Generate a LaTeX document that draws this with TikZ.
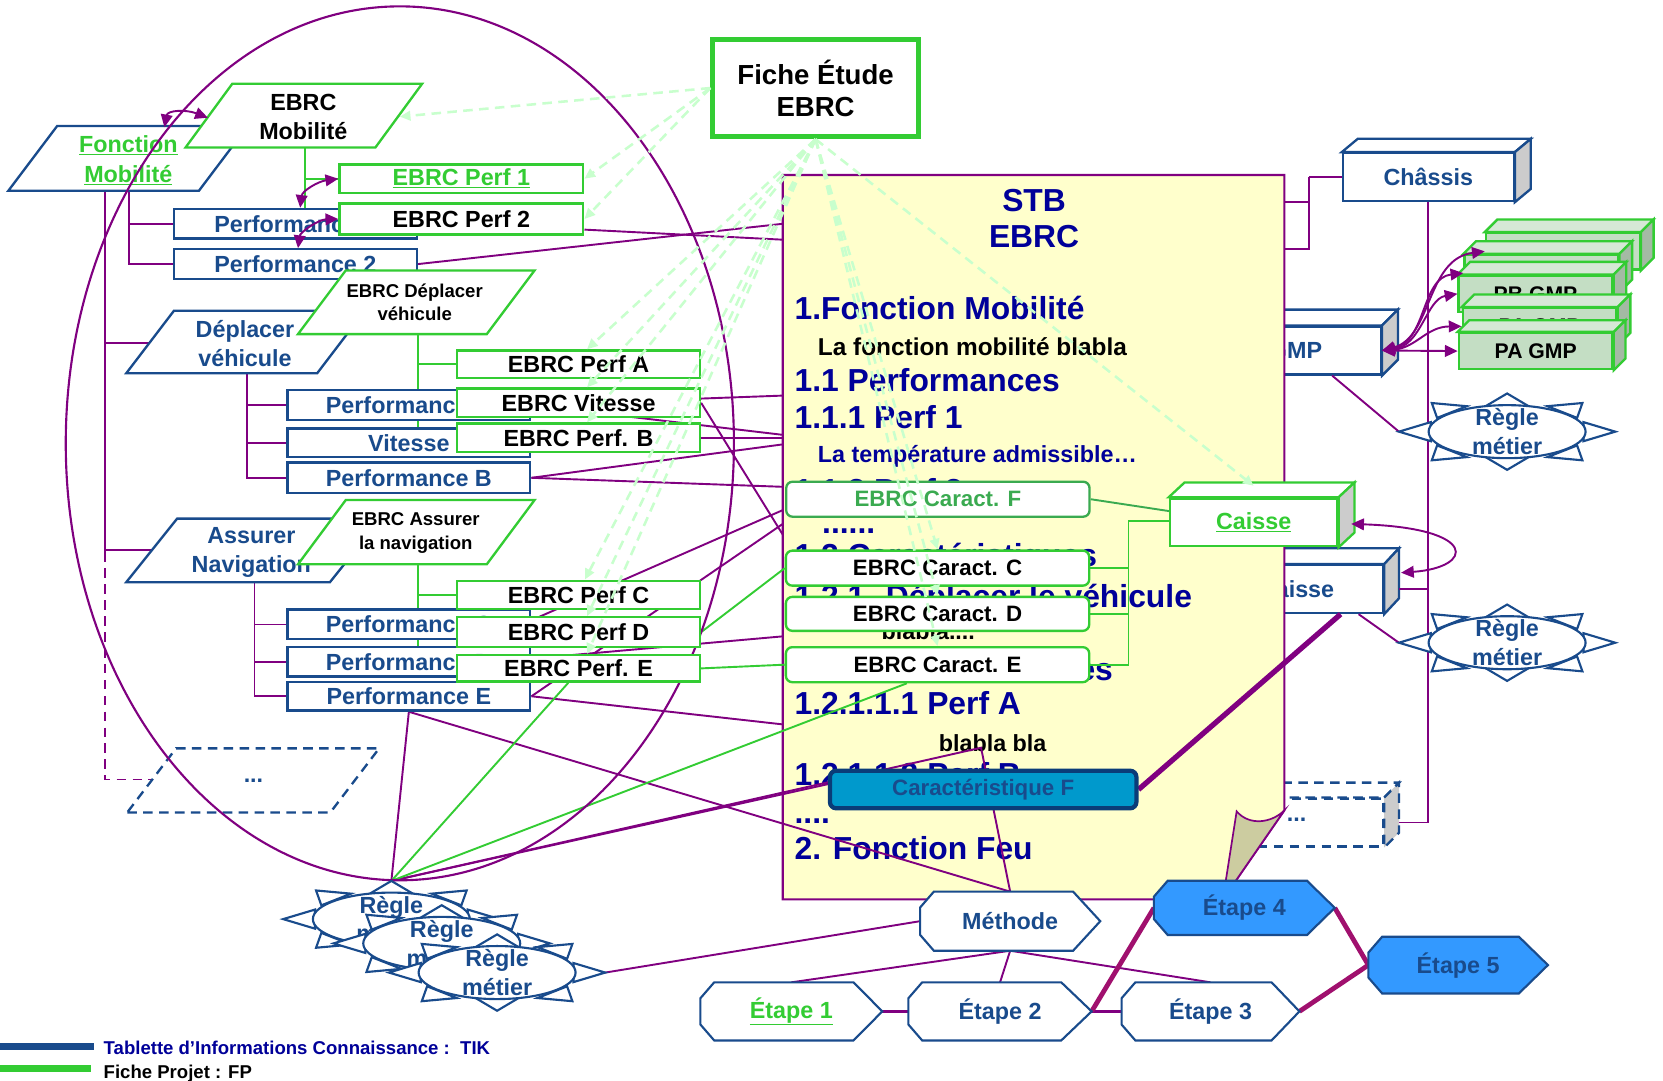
\documentclass[tikz,border=0pt]{standalone}
\usepackage{fontspec}
\setmainfont{Liberation Sans}
\usetikzlibrary{arrows.meta,calc}

\definecolor{tik}{RGB}{25,75,140}
\definecolor{tikdark}{RGB}{10,60,120}
\definecolor{fp}{RGB}{51,204,51}
\definecolor{fpdark}{RGB}{58,170,80}
\definecolor{lien}{RGB}{128,0,128}
\definecolor{etapelien}{RGB}{160,16,110}
\definecolor{navy}{RGB}{0,0,153}
\definecolor{page}{RGB}{255,255,204}
\definecolor{curl}{RGB}{204,204,160}
\definecolor{dash}{RGB}{200,255,205}
\definecolor{caract}{RGB}{0,153,204}
\definecolor{etape}{RGB}{51,153,255}
\definecolor{gmpfront}{RGB}{196,222,196}
\definecolor{gmptop}{RGB}{214,232,214}
\definecolor{gmpside}{RGB}{164,186,164}
\definecolor{sidegrey}{RGB}{204,204,204}

\pgfdeclarelayer{back}
\pgfdeclarelayer{pagel}
\pgfdeclarelayer{links}
\pgfsetlayers{back,pagel,links,main}

\newcommand{\fsz}[2]{\fontsize{#1}{#2}\selectfont\bfseries}

% parallelogram: style, name, x bottom-left, x bottom-right, y bottom, y top, slant
\newcommand{\pgram}[7]{%
  \draw[#1] (#3,#5) coordinate (#2-bl) -- (#4,#5) coordinate (#2-br)
    -- ({#4+#7},#6) coordinate (#2-tr) -- ({#3+#7},#6) coordinate (#2-tl) -- cycle;}

% top and right faces of a box node: node, dx, dy (upwards), style, side colour
\newcommand{\cubefaces}[5]{%
  \draw[#4] (#1.north west) -- ++(#2,-#3) -- ($(#1.north east)+(#2,-#3)$) -- (#1.north east) -- cycle;
  \draw[#4,fill=#5] (#1.north east) -- ++(#2,-#3) -- ($(#1.south east)+(#2,-#3)$) -- (#1.south east) -- cycle;}

% business rule seal: name, x, y
\newcommand{\regle}[3]{%
  \begin{scope}[shift={(#2,#3)}]
    \filldraw[reglet] (-102,0) -- (-72,-9) -- (-72,9) -- cycle;
    \filldraw[reglet] (102,0) -- (72,-9) -- (72,9) -- cycle;
    \filldraw[reglet] (0,-36) -- (-22,-23) -- (22,-23) -- cycle;
    \filldraw[reglet] (0,36) -- (-22,23) -- (22,23) -- cycle;
    \filldraw[reglet] (-71,-27) -- (-38,-24) -- (-66,-13) -- cycle;
    \filldraw[reglet] (71,-27) -- (38,-24) -- (66,-13) -- cycle;
    \filldraw[reglet] (-71,27) -- (-38,24) -- (-66,13) -- cycle;
    \filldraw[reglet] (71,27) -- (38,24) -- (66,13) -- cycle;
    \filldraw[reglet] (0,0) ellipse [x radius=74pt, y radius=25pt];
    \coordinate (#1-top) at (0,-36);
    \coordinate (#1-left) at (-102,0);
    \coordinate (#1-right) at (102,0);
    \node[lbl, text=tik, align=center, font={\fsz{22}{27}}] (#1) at (0,0) {Règle\\métier};
  \end{scope}}

% process step: name, x left, x right, x tip, y top, y bottom, fill, text
\newcommand{\etape}[8]{%
  \filldraw[stepl, fill=#7] ({#2+13},#5) -- (#3,#5) -- (#4,{(#5+#6)/2}) -- (#3,#6)
    -- ({#2+13},#6) -- (#2,{#6-15}) -- (#2,{#5+15}) -- cycle;
  \node[lbl, text=tik] (#1) at ({(#2+#4)/2},{(#5+#6)/2}) {#8};
  \coordinate (#1-n) at ({(#2+#4)/2},#5);
  \coordinate (#1-s) at ({(#2+#4)/2},#6);
  \coordinate (#1-w) at (#2,{(#5+#6)/2});
  \coordinate (#1-e) at (#4,{(#5+#6)/2});}

\begin{document}
\begin{tikzpicture}[x=1pt, y=-1pt,
  tikl/.style={draw=tik, line width=2.2pt},
  fpl/.style={draw=fp, line width=2.2pt},
  lbl/.style={inner sep=0pt, font={\fsz{22}{26}}},
  tikbox/.style={tikl, fill=white, inner sep=0pt, text=tik, font={\fsz{22}{26}}},
  fpbox/.style={fpl, fill=white, inner sep=0pt, text=black, font={\fsz{22}{26}}},
  carbox/.style={fpl, fill=white, rounded corners=6pt, minimum width=286pt, inner sep=0pt, font={\fsz{21}{25}}},
  gmpbox/.style={fpl, fill=gmpfront, minimum width=145pt, minimum height=34pt, inner sep=0pt, font={\fsz{20}{24}}},
  lk/.style={draw=lien, line width=1.8pt},
  gk/.style={draw=fp, line width=1.8pt},
  twohead/.style={lk, {Triangle[length=12pt,width=11pt]}-{Triangle[length=12pt,width=11pt]}},
  feuil/.style={draw=dash, line width=2.4pt, dash pattern=on 9pt off 6pt, -{Triangle[length=10pt,width=9pt]}},
  stbh/.style={anchor=base west, inner sep=0pt, text=navy, font={\fsz{30}{34}}},
  stbt/.style={anchor=base west, inner sep=0pt, font={\fsz{22}{26}}},
  reglet/.style={draw=tik, line width=2pt, fill=white},
  stepl/.style={draw=tik, line width=2pt},
  steplink/.style={draw=etapelien, line width=4.5pt},
  dashedtik/.style={dash pattern=on 9pt off 6pt},
]
\useasboundingbox (0,0) rectangle (1568,1019);

% ---------- boxes lying behind the STB page ----------
\begin{pgfonlayer}{back}
  \fill[white] (0,0) rectangle (1568,1019);
  \node[tikbox, minimum width=161pt, minimum height=45pt] (tgmp) at (1221.5,330.5) {GMP};
  \cubefaces{tgmp}{15}{15}{tikl, fill=white}{sidegrey}
  \node[tikbox, minimum width=163pt, minimum height=45pt] (tcaisse) at (1222.5,555.5) {Caisse};
  \cubefaces{tcaisse}{14}{15}{tikl, fill=white}{sidegrey}
  \node[tikbox, dashedtik, minimum width=163pt, minimum height=45pt] (tetc) at (1222.5,775.5) {\raisebox{5pt}{...}};
  \cubefaces{tetc}{14}{14}{tikl, dashedtik, fill=white}{sidegrey}
\end{pgfonlayer}

% ---------- STB document page ----------
\begin{pgfonlayer}{pagel}
  \filldraw[draw=lien, line width=2pt, fill=page] (738,165) -- (1211,165) -- (1211,764) -- (1153,848) -- (738,848) -- cycle;
  \filldraw[draw=lien, line width=1.6pt, fill=curl] (1166,765) .. controls (1178,779) and (1199,776) .. (1211,764) -- (1153,848) -- cycle;
  \node[anchor=base, inner sep=0pt, text=navy, font={\fsz{30}{34}}] (stb1) at (975,199.7) {STB};
  \node[anchor=base, inner sep=0pt, text=navy, font={\fsz{30}{34}}] (stb2) at (975,233.7) {EBRC};
  \node[stbh] (h1) at (749,301.7) {1.Fonction Mobilité};
  \node[stbt, font={\fsz{23}{27}}] (t1) at (771,335.3) {La fonction mobilité blabla};
  \node[stbh] (h2) at (749,368.7) {1.1 Performances};
  \node[stbh] (h3) at (749,403.7) {1.1.1 Perf 1};
  \node[stbt, text=navy] (t2) at (771,436) {La température admissible…};
  \node[stbh] (h4) at (749,472.7) {1.1.2 Perf 2};
  \node[stbh] (h5) at (775,503) {......};
  \node[stbh] (h6) at (749,534.5) {1.2 Caractéristiques};
  \node[stbh] (h7) at (749,573) {1.2.1. Déplacer le véhicule};
  \node[stbt] (t3) at (831,603.4) {blabla....};
  \node[stbh] (h8) at (749,642) {1.2.1.1 Performances};
  \node[stbh] (h9) at (749,673.7) {1.2.1.1.1 Perf A};
  \node[stbt] (t4) at (885,708.8) {blabla bla};
  \node[stbh] (h10) at (749,741) {1.2.1.1.2 Perf B};
  \node[stbh] (h11) at (749,776) {....};
  \node[stbh] (h12) at (749,810.7) {2. Fonction Feu};
\end{pgfonlayer}

% ---------- top: study sheet and chassis ----------
\node[draw=fp, line width=4.5pt, fill=white, minimum width=194pt, minimum height=92pt, inner sep=0pt,
      align=center, font={\fsz{26}{30}}] (fiche) at (769,83) {Fiche Étude\\EBRC};
\node[tikbox, minimum width=161pt, minimum height=45pt] (chassis) at (1346.75,167) {Châssis};
\cubefaces{chassis}{15}{12.5}{tikl, fill=white}{sidegrey}

% ---------- knowledge tablets (left tree) ----------
\pgram{tikl, fill=white}{fm}{7.9}{187.6}{179.8}{118.8}{46}
\node[lbl, text=fp, align=center, font={\fsz{22}{28}}] (fmt) at (121,151) {\underline{Fonction}\\\underline{Mobilité}};
\node[tikbox, minimum width=229pt, minimum height=28pt] (tperf1) at (278.5,211) {Performance 1};
\node[tikbox, minimum width=229pt, minimum height=28pt] (tperf2) at (278.5,249) {Performance 2};
\pgram{tikl, fill=white}{dep}{119}{299}{352}{293}{45}
\node[lbl, text=tik, align=center, font={\fsz{22}{28}}] (dept) at (231,324) {Déplacer\\véhicule};
\node[tikbox, minimum width=229pt, minimum height=28pt] (tperfa) at (385.5,382) {Performance A};
\node[tikbox, minimum width=229pt, minimum height=27pt] (tvit) at (385.5,417.5) {Vitesse};
\node[tikbox, minimum width=229pt, minimum height=29pt] (tperfb) at (385.5,450.5) {Performance B};
\pgram{tikl, fill=white}{ass}{119}{311}{549}{489}{48}
\node[lbl, text=tik, align=center, font={\fsz{22}{27}}] (asst) at (237,521) {Assurer\\Navigation};
\node[tikbox, minimum width=229pt, minimum height=28pt] (tperfc) at (385.5,588.8) {Performance C};
\node[tikbox, minimum width=229pt, minimum height=28pt] (tperfd) at (385.5,624) {Performance D};
\node[tikbox, minimum width=229pt, minimum height=27pt] (tperfe) at (385.5,656.5) {Performance E};
\pgram{tikl, dashedtik, fill=white}{etc}{120}{311.5}{766}{705.6}{46}
\node[lbl, text=tik] (etct) at (239,736) {...};

\coordinate (fm-a) at (99,179.8);
\coordinate (fm-b) at (122,179.8);
\coordinate (fm-d) at (99,521);
\coordinate (dep-w) at (141,323);
\coordinate (ass-w) at (143,519);
\coordinate (etc-w) at (143,735);
\coordinate (dep-s) at (233,352);
\coordinate (ass-s) at (240,549);

% the study perimeter
\draw[lk, line width=2pt] (377,418) ellipse [x radius=315pt, y radius=412pt];

% ---------- project sheets (left tree) ----------
\pgram{fpl, fill=white}{emob}{175}{354}{139}{79}{44}
\node[lbl, align=center, font={\fsz{22}{27}}] (emobt) at (286,110.5) {EBRC\\Mobilité};
\node[fpbox, minimum width=230pt, minimum height=27pt] (ebrcp1) at (435,168.5) {\textcolor{fp}{\underline{EBRC Perf 1}}};
\node[fpbox, minimum width=230pt, minimum height=29pt] (ebrcp2) at (435,206.5) {EBRC Perf 2};
\pgram{fpl, fill=white}{edep}{281}{459}{315}{255}{45}
\node[lbl, align=center, font={\fsz{17.5}{22}}] (edept) at (391,285) {EBRC Déplacer\\véhicule};
\node[fpbox, minimum width=229pt, minimum height=26pt] (ebrcpa) at (545.5,343.4) {EBRC Perf A};
\node[fpbox, minimum width=229pt, minimum height=27pt] (ebrcvit) at (545.5,379.8) {EBRC Vitesse};
\node[fpbox, minimum width=229pt, minimum height=27pt] (ebrcpb) at (545.5,412.8) {EBRC Perf. B};
\pgram{fpl, fill=white}{eass}{281}{459}{532}{471.5}{45}
\node[lbl, align=center, font={\fsz{17.5}{23}}] (easst) at (392,502.5) {EBRC Assurer\\la navigation};
\node[fpbox, minimum width=229pt, minimum height=27pt] (ebrcpc) at (545.5,561) {EBRC Perf C};
\node[fpbox, minimum width=229pt, minimum height=28pt] (ebrcpd) at (545.5,596) {EBRC Perf D};
\node[fpbox, minimum width=229pt, minimum height=25pt] (ebrcpe) at (545.5,630.2) {EBRC Perf. E};

\coordinate (emob-s) at (288,139);
\coordinate (edep-s) at (394,315);
\coordinate (eass-s) at (394,532);
\coordinate (emob-arr) at (377,110);

% ---------- characteristics on the page ----------
\node[carbox, draw=fpdark, text=fpdark, minimum height=33pt] (ecf) at (884.3,470.7) {EBRC Caract. F};
\node[carbox, minimum height=33pt] (ecc) at (884,535.7) {EBRC Caract. C};
\node[carbox, minimum height=32pt] (ecd) at (884,578.8) {EBRC Caract. D};
\node[carbox, minimum height=33pt] (ece) at (884,626.7) {EBRC Caract. E};
\node[draw=tikdark, line width=4pt, rounded corners=6pt, fill=caract, minimum width=289pt, minimum height=35.5pt,
      inner sep=0pt, text=tik, font={\fsz{21}{25}}] (carF) at (927,744.4) {Caractéristique F};

\node[fpbox, minimum width=158pt, minimum height=45pt] (fcaisse) at (1182,492.5) {\textcolor{fp}{\underline{Caisse}}};
\cubefaces{fcaisse}{15}{14}{fpl, fill=white}{sidegrey}

% ---------- business rules ----------
\regle{r1}{369}{866.6}
\regle{r2}{416.5}{889.5}
\regle{r3}{468.7}{917}
\regle{rA}{1421}{407}
\regle{rB}{1421}{606}

% ---------- method and steps ----------
\etape{methode}{867.5}{1011.8}{1037.4}{840.7}{896.4}{white}{Méthode}
\etape{etape1}{660.4}{804.7}{831.9}{926.2}{981}{white}{\textcolor{fp}{\underline{Étape 1}}}
\etape{etape2}{856.5}{1000.6}{1029.3}{926.2}{981}{white}{Étape 2}
\etape{etape3}{1057.5}{1198.9}{1225.2}{926.2}{981}{white}{Étape 3}
\etape{etape4}{1088}{1232.3}{1258.5}{830.4}{881.6}{etape}{Étape 4}
\etape{etape5}{1290.2}{1432.1}{1459.5}{883.2}{936.7}{etape}{Étape 5}

% ---------- GMP part sheets ----------
\node[gmpbox] (gmp1) at (1473.5,237) {PA GMP};
\cubefaces{gmp1}{12}{12}{fpl, fill=gmptop}{gmpside}
\node[gmpbox] (gmp2) at (1453.3,257.5) {PA GMP};
\cubefaces{gmp2}{12}{12}{fpl, fill=gmptop}{gmpside}
\node[gmpbox] (gmp3) at (1447.8,277) {PB GMP};
\cubefaces{gmp3}{12}{12}{fpl, fill=gmptop}{gmpside}
\node[gmpbox] (gmp4) at (1451.6,307.7) {PA GMP};
\cubefaces{gmp4}{12}{12}{fpl, fill=gmptop}{gmpside}
\node[gmpbox] (gmp5) at (1448,331) {PA GMP};
\cubefaces{gmp5}{11}{11}{fpl, fill=gmptop}{gmpside}

% ---------- legend ----------
\fill[tik] (0,983.7) rectangle (89,990);
\fill[fp] (0,1004) rectangle (86,1011);
\node[anchor=base west, inner sep=0pt, text=navy, font={\fsz{17.5}{20}}] (leg1) at (97.6,994.5) {Tablette d’Informations Connaissance :\ \ TIK};
\node[anchor=base west, inner sep=0pt, font={\fsz{17.5}{20}}] (leg2) at (97.6,1017) {Fiche Projet : FP};

% ---------- two-way links ----------
\coordinate (fm-arr) at (155,120);
\coordinate (emob-arrl) at (196,111);
\draw[twohead] (fm-arr) .. controls (158,104) and (175,103) .. (emob-arrl);
\draw[twohead] ([xshift=4.5pt]tperf1.north) .. controls (285,180) and (300,171) .. (ebrcp1.west);
\draw[twohead] ([xshift=2.5pt]tperf2.north) .. controls (283,219) and (300,207) .. (ebrcp2.west);
\draw[twohead] (tgmp.east) -- (gmp5.west);
\draw[twohead] (tgmp.east) .. controls (1335,328) and (1345,308) .. (gmp4.west);
\draw[twohead] (tgmp.east) .. controls (1340,326) and (1345,282) .. (gmp3.west);
\draw[twohead] (tgmp.east) .. controls (1345,322) and (1340,262) .. (gmp2.west);
\draw[twohead] (tgmp.east) .. controls (1350,318) and (1345,244) .. (gmp1.west);
\coordinate (fc-r) at (1274,494);
\coordinate (tc-r) at (1321,540);
\draw[twohead] (fc-r) .. controls (1395,498) and (1390,535) .. (tc-r);

% ---------- links from the study sheet ----------
\coordinate (fc-top) at (1182,458);
\draw[feuil] (fiche.west) -- (emob-arr);
\draw[feuil] (fiche.west) -- (ebrcp1.east);
\draw[feuil] (fiche.west) -- (ebrcp2.east);
\draw[feuil] (fiche.south) -- ([xshift=8pt]ebrcpa.north);
\draw[feuil] (fiche.south) -- ([xshift=8pt]ebrcvit.north);
\draw[feuil] (fiche.south) -- ([xshift=8pt]ebrcpb.north);
\draw[feuil] (fiche.south) -- ([xshift=6pt]ebrcpc.north);
\draw[feuil] (fiche.south) -- ([xshift=8pt]ebrcpd.north);
\draw[feuil] (fiche.south) -- ([xshift=8pt]ebrcpe.north);
\draw[feuil] (fiche.south) -- (ecc.north);
\draw[feuil] (fiche.south) -- (ecd.north);
\draw[feuil] (fiche.south) -- (ece.north);
\draw[feuil] (fiche.south) -- (fc-top);

% ---------- connectors (under the boxes) ----------
\begin{pgfonlayer}{links}
  % knowledge tree
  \draw[lk] (fm-a) -- (fm-d);
  \draw[lk] (fm-a) |- (dep-w);
  \draw[lk] (fm-a) |- (ass-w);
  \draw[lk, dashedtik] (fm-d) |- (etc-w);
  \draw[lk] (fm-b) |- (tperf1.west);
  \draw[lk] (fm-b) |- (tperf2.west);
  \draw[lk] (dep-s) |- (tperfa.west);
  \draw[lk] (dep-s) |- (tvit.west);
  \draw[lk] (dep-s) |- (tperfb.west);
  \draw[lk] (ass-s) |- (tperfc.west);
  \draw[lk] (ass-s) |- (tperfd.west);
  \draw[lk] (ass-s) |- (tperfe.west);
  % project sheet tree
  \draw[gk] (emob-s) |- (ebrcp1.west);
  \draw[gk] (emob-s) |- (ebrcp2.west);
  \draw[gk] (edep-s) |- (ebrcpa.west);
  \draw[gk] (edep-s) |- (ebrcvit.west);
  \draw[gk] (edep-s) |- (ebrcpb.west);
  \draw[gk] (eass-s) |- (ebrcpc.west);
  \draw[gk] (eass-s) |- (ebrcpd.west);
  \draw[gk] (eass-s) |- (ebrcpe.west);
  % links into the STB page
  \coordinate (pL1) at (738,226);
  \coordinate (pL2) at (738,211);
  \coordinate (pL3) at (738,373);
  \coordinate (pL4) at (738,410);
  \coordinate (pL5) at (738,412.8);
  \coordinate (pL6) at (738,419);
  \coordinate (pL7) at (738,459);
  \coordinate (pL8) at (738,481);
  \coordinate (pL9) at (738,494);
  \coordinate (pL10) at (738,600);
  \coordinate (pL11) at (738,683);
  \coordinate (pL12) at (738,504);
  \draw[lk] ([yshift=-10pt]ebrcp2.east) -- (pL1);
  \draw[lk] (tperf2.east) -- (pL2);
  \draw[lk] ([yshift=4pt]ebrcvit.east) -- (pL3);
  \draw[lk] (tperfa.east) -- (pL4);
  \draw[lk] (ebrcpb.east) -- (pL5);
  \draw[lk] (tperfb.east) -- (pL6);
  \draw[lk] (tperfb.east) -- (pL7);
  \draw[lk] ([yshift=4pt]tperfc.east) -- (pL8);
  \draw[lk] (tperfe.east) -- (pL9);
  \draw[lk] ([yshift=3pt]tperfd.east) -- (pL10);
  \draw[lk] (tperfe.east) -- (pL11);
  \draw[lk] (ebrcvit.east) -- (pL12);
  % rules, method and steps
  \coordinate (bla-pt) at (925,705);
  \draw[lk] (tperfe.south) -- (r1-top);
  \draw[lk] (tperfe.south) -- (methode-n);
  \draw[lk] (r1-top) -- ([yshift=5pt]carF.west);
  \draw[lk] (r1-top) -- (bla-pt) -- (methode-n);
  \draw[lk] (methode-w) -- (r3-right);
  \draw[lk] (methode-s) -- (etape1-n);
  \draw[lk] (methode-s) -- (etape2-n);
  \draw[lk] (methode-s) -- (etape3-n);
  \draw[lk, line width=3.5pt] (etape1-e) -- (etape2-w);
  \draw[lk, line width=3.5pt] (etape2-e) -- (etape3-w);
  \draw[steplink] (etape2-e) -- (etape4-w);
  \draw[steplink] (etape4-e) -- (etape5-w);
  \draw[steplink] (etape3-e) -- (etape5-w);
  % characteristics to the body part
  \coordinate (fc-w1) at (1103,482);
  \coordinate (cj) at (1064,491);
  \draw[draw=fpdark, line width=1.8pt] (ecf.east) -- (fc-w1);
  \draw[gk] (fcaisse.west |- cj) -- (cj) |- (ece.east);
  \draw[gk] (cj) |- (ecc.east);
  \draw[gk] (cj) |- (ecd.east);
  \draw[gk] (ebrcpe.east) -- (ece.west);
  \draw[gk] (ebrcpd.east) -- (ecc.west);
  \draw[gk] ([xshift=-9.7pt]ebrcpe.south) -- (r1-top);
  \draw[gk] (r1-top) -- ([xshift=-29pt]ece.south);
  % right-hand side
  \coordinate (stbr1) at (1211,190.6);
  \coordinate (stbr2) at (1211,235);
  \coordinate (chj) at (1234,167);
  \draw[lk] (stbr1) -| (chj);
  \draw[lk] (stbr2) -| (chj);
  \draw[lk] (chj) -- (chassis.west);
  \draw[lk] (chassis.south) |- ($(tetc.east)+(14,0)$);
  \draw[lk] ($(tcaisse.east)+(14,0)$) -- (tcaisse.east -| chassis.south);
  \draw[lk] ([xshift=34.5pt]tgmp.south) -- (rA-left);
  \draw[lk] ([xshift=58.5pt]tcaisse.south) -- (rB-left);
  \draw[lk, line width=5pt] (carF.east) -- ([xshift=41.5pt]tcaisse.south);
\end{pgfonlayer}
\end{tikzpicture}
\end{document}
